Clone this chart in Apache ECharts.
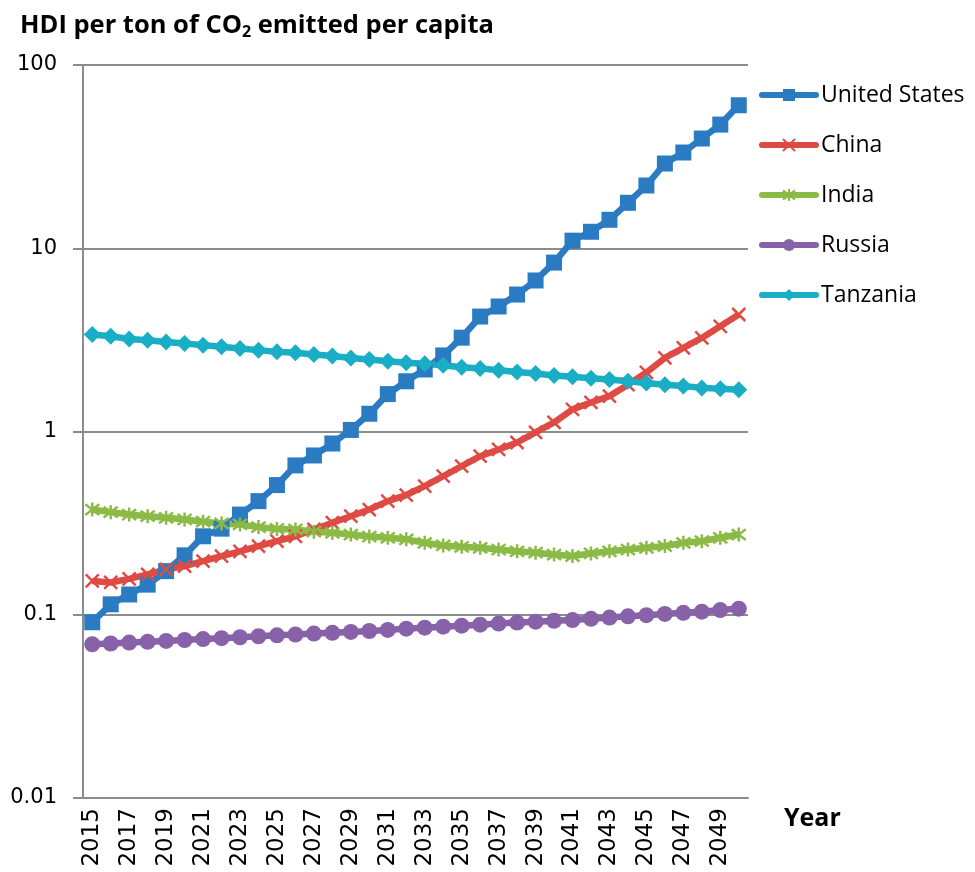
<!DOCTYPE html>
<html>
<head>
<meta charset="utf-8">
<script src="https://cdn.jsdelivr.net/npm/echarts@6/dist/echarts.min.js"></script>
<style>html,body{margin:0;padding:0;background:#fff}#c{width:975px;height:872px}</style>
</head>
<body>
<div id="c"></div>
<script>
const years = [];
for (let y = 2015; y <= 2050; y++) years.push(String(y));

const seriesNames = ['United States', 'China', 'India', 'Russia', 'Tanzania'];
const usValues = [0.091,0.114,0.129,0.146,0.173,0.211,0.268,0.295,0.352,0.417,0.51,0.653,0.74,0.86,1.02,1.25,1.6,1.88,2.18,2.6,3.25,4.24,4.81,5.59,6.67,8.35,11.0,12.3,14.3,17.7,22.0,29.0,33.3,39.7,47.3,60.3];
const chinaValues = [0.153,0.150,0.157,0.166,0.177,0.184,0.196,0.209,0.222,0.237,0.252,0.268,0.292,0.318,0.345,0.375,0.417,0.45,0.503,0.570,0.647,0.733,0.798,0.871,0.99,1.12,1.32,1.44,1.56,1.80,2.10,2.52,2.86,3.24,3.75,4.35];
const indiaValues = [0.375,0.363,0.352,0.345,0.338,0.331,0.322,0.315,0.311,0.301,0.294,0.292,0.284,0.280,0.274,0.267,0.263,0.258,0.247,0.239,0.235,0.232,0.227,0.222,0.218,0.213,0.209,0.216,0.222,0.227,0.232,0.237,0.247,0.252,0.263,0.274];
const russiaValues = [0.069,0.0697,0.0705,0.0712,0.072,0.0728,0.0737,0.0745,0.0754,0.0763,0.0772,0.078,0.0789,0.0797,0.0806,0.0815,0.0826,0.084,0.085,0.0861,0.0872,0.0883,0.0895,0.0906,0.0917,0.0926,0.0935,0.095,0.0965,0.098,0.0995,0.101,0.1025,0.104,0.106,0.108];
const tanzaniaValues = [3.38,3.31,3.20,3.15,3.08,3.02,2.96,2.90,2.84,2.78,2.72,2.69,2.63,2.58,2.52,2.47,2.42,2.37,2.34,2.30,2.24,2.21,2.16,2.11,2.07,2.02,1.99,1.95,1.92,1.88,1.84,1.80,1.77,1.73,1.71,1.69];

const yTicks = ['0.01', '0.1', '1', '10', '100'];

const colors = ['#2B7BC3', '#DE4B44', '#8BBB46', '#8862A8', '#1AAEC6'];
const crossPath = 'path://M0,0L10,10M10,0L0,10';
const starPath = 'path://M0,0L10,10M10,0L0,10M5,-1.5L5,11.5';

const chart = echarts.init(document.getElementById('c'), null, {renderer: 'canvas'});

function lineSeries(name, data, color, symbol, size, stroke) {
  return {
    name: name,
    type: 'line',
    data: data,
    symbol: symbol,
    symbolSize: size,
    showAllSymbol: true,
    lineStyle: {color: color, width: 6.5},
    itemStyle: stroke ? {color: color, borderColor: color, borderWidth: 2.5} : {color: color, borderWidth: 0},
    emphasis: {disabled: true},
    animation: false,
    z: 3
  };
}

chart.setOption({
  animation: false,
  color: colors,
  title: {
    text: '{a|HDI per ton of CO}{s|2}{a| emitted per capita}',
    left: 20,
    top: 12,
    padding: 0,
    textStyle: {
      rich: {
        a: {fontFamily: 'Open Sans', fontWeight: 'bold', fontSize: 25.5, color: '#000'},
        s: {fontFamily: 'Open Sans', fontWeight: 'bold', fontSize: 16, color: '#000', verticalAlign: 'bottom', padding: [12, 0, 0, 0]}
      }
    }
  },
  legend: {
    orient: 'vertical',
    left: 754,
    top: 76,
    itemWidth: 54,
    itemHeight: 15,
    itemGap: 22,
    data: seriesNames,
    lineStyle: {width: 6, cap: 'round'},
    textStyle: {fontFamily: 'Open Sans', fontSize: 23, color: '#000', lineHeight: 28}
  },
  grid: {left: 83, right: 227, top: 65, bottom: 74, containLabel: false},
  xAxis: {
    type: 'category',
    data: years,
    boundaryGap: true,
    axisLine: {show: true, lineStyle: {color: '#8c8c8c', width: 2}},
    axisTick: {show: false},
    axisLabel: {
      interval: 1,
      rotate: 90,
      margin: 10,
      fontFamily: 'DejaVu Sans',
      fontSize: 23,
      color: '#000'
    },
    splitLine: {show: false}
  },
  yAxis: {
    type: 'log',
    logBase: 10,
    min: 0.01,
    max: 100,
    axisLine: {show: true, lineStyle: {color: '#8c8c8c', width: 2}},
    axisTick: {show: true, length: 10, inside: false, lineStyle: {color: '#8c8c8c', width: 2}},
    axisLabel: {
      margin: 26,
      fontFamily: 'DejaVu Sans',
      fontSize: 21,
      color: '#000',
      formatter: function (v) {
        const s = yTicks.find(t => Math.abs(parseFloat(t) - v) / v < 1e-6);
        return s !== undefined ? s : '';
      }
    },
    splitLine: {show: true, lineStyle: {color: '#8c8c8c', width: 2}},
    minorTick: {show: false}
  },
  graphic: [{
    type: 'text',
    left: 784,
    top: 806,
    style: {text: 'Year', fontFamily: 'Open Sans', fontWeight: 'bold', fontSize: 25, fill: '#000'}
  }],
  series: [
    lineSeries(seriesNames[0], usValues, colors[0], 'rect', 16, false),
    lineSeries(seriesNames[1], chinaValues, colors[1], crossPath, 13, true),
    lineSeries(seriesNames[2], indiaValues, colors[2], starPath, 14, true),
    lineSeries(seriesNames[3], russiaValues, colors[3], 'circle', 16, false),
    lineSeries(seriesNames[4], tanzaniaValues, colors[4], 'diamond', 17, false)
  ]
});
</script>
</body>
</html>
